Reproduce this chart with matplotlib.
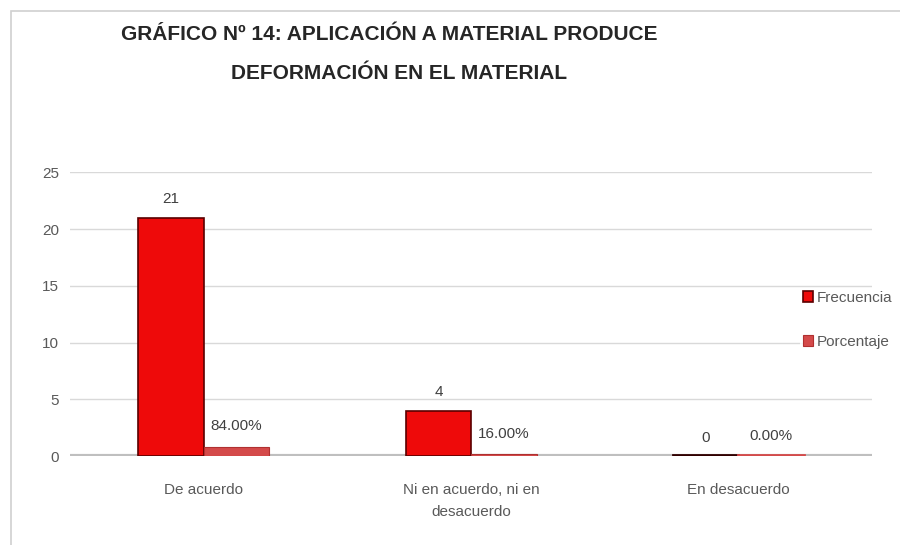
import numpy as np
import matplotlib.pyplot as plt
from matplotlib.patches import Rectangle

plt.rcParams['font.family'] = ['Liberation Sans Narrow', 'Liberation Sans', 'DejaVu Sans']

categories = ["De acuerdo", "Ni en acuerdo, ni en\ndesacuerdo", "En desacuerdo"]
frecuencia = [21, 4, 0]
porcentaje = [0.84, 0.16, 0.00]
frec_labels = ["21", "4", "0"]
porc_labels = ["84.00%", "16.00%", "0.00%"]

fig = plt.figure(figsize=(9, 5.45), dpi=100)
ax = fig.add_axes([0.078, 0.163, 0.891, 0.521])

x = np.arange(len(categories))
w = 0.245
b1 = ax.bar(x - w / 2, frecuencia, w, color="#ee0a0a", edgecolor="#5a0000", lw=1.2, zorder=3)
b2 = ax.bar(x + w / 2, porcentaje, w, color="#d44a4a", edgecolor="#b03030", lw=0.8, zorder=3)
# the zero bar is drawn as a dark line on the floor
ax.plot([x[2] - w, x[2]], [0.08, 0.08], color="#300000", lw=2, zorder=4)
ax.plot([x[2], x[2] + w], [0.08, 0.08], color="#d44a4a", lw=2, zorder=4)

for xi, v, lab in zip(x, frecuencia, frec_labels):
    ax.text(xi - w / 2, v + 1.0, lab, ha="center", va="bottom", fontsize=11, color="#404040")
for xi, v, lab in zip(x, porcentaje, porc_labels):
    ax.text(xi + w / 2, v + 1.2, lab, ha="center", va="bottom", fontsize=11, color="#404040")

ax.set_xlim(-0.5, 2.5)
ax.set_ylim(0, 25)
ax.set_yticks([0, 5, 10, 15, 20, 25])
ax.yaxis.grid(True, color="#d9d9d9", lw=1, zorder=0)
ax.axhline(0, color="#bfbfbf", lw=3, zorder=2)
for s in ax.spines.values():
    s.set_visible(False)
ax.tick_params(length=0, labelsize=11, colors="#595959", pad=8)
ax.set_xticks(x)
ax.set_xticklabels(categories, fontsize=11, color="#595959", linespacing=1.75)
ax.tick_params(axis="x", pad=19)

leg = ax.legend([b1, b2], ["Frecuencia", "Porcentaje"], loc="center left",
                bbox_to_anchor=(0.9, 0.48), frameon=True, fontsize=11,
                handlelength=0.7, handleheight=0.7, handletextpad=0.2,
                labelspacing=1.95, borderpad=0.2, labelcolor="#595959")
leg.get_frame().set_edgecolor("none")
leg.get_frame().set_facecolor("white")

fig.text(0.433, 0.937, "GRÁFICO Nº 14: APLICACIÓN A MATERIAL PRODUCE", ha="center",
         va="center", fontsize=15, fontweight="bold", color="#262626")
fig.text(0.443, 0.866, "DEFORMACIÓN EN EL MATERIAL", ha="center",
         va="center", fontsize=15, fontweight="bold", color="#262626")

fig.patches.append(Rectangle((0.012, -0.1), 1.1, 1.08, transform=fig.transFigure,
                             fill=False, edgecolor="#d0d0d0", lw=1.2))

fig.savefig("out.png", dpi=100)
